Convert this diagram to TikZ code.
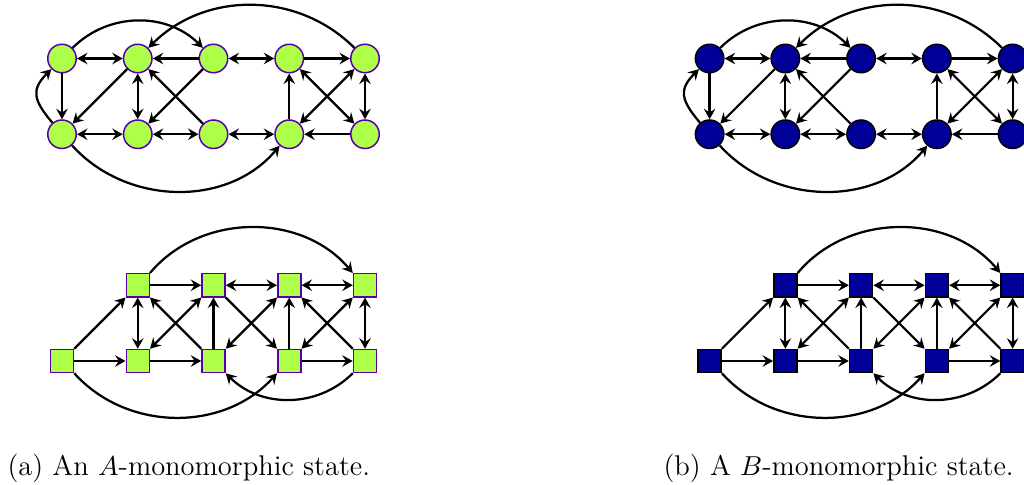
\documentclass[tikz,border=0pt]{standalone}
\usepackage{amsmath}
\usepackage{xcolor}
\usepackage{tikz}
\usetikzlibrary{arrows.meta,positioning}

\definecolor{limefill}{RGB}{173,255,71}
\definecolor{purpline}{RGB}{85,0,170}
\definecolor{navyfill}{RGB}{0,0,153}

\begin{document}
\begin{tikzpicture}[
    x=0.4pt, y=0.4pt,
    node distance=30.3pt, on grid,
    >={Stealth[length=4.2pt, width=4.6pt, inset=1.5pt]},
    circ/.style={circle, inner sep=0pt, minimum size=11.4pt, line width=0.6pt},
    sq/.style={rectangle, inner sep=0pt, minimum size=9.2pt, line width=0.6pt},
    limestate/.style={draw=purpline, fill=limefill},
    navystate/.style={draw=black, fill=navyfill},
    arr/.style={->, line width=0.9pt},
    both/.style={<->, line width=0.9pt},
    caption/.style={anchor=base west, inner sep=0pt, font=\fontsize{11.4}{13}\selectfont}
  ]
    \useasboundingbox (0,0) rectangle (1024,-485);

    \foreach \p/\dx/\col in {a/0/limestate, b/647.6/navystate}{
    \begin{scope}[shift={(\dx,0)}, name prefix=\p-]
    % circle graph
    \node[circ, \col] (t1) at (62,-58.5) {};
    \node[circ, \col, right=of t1] (t2) {};
    \node[circ, \col, right=of t2] (t3) {};
    \node[circ, \col, right=of t3] (t4) {};
    \node[circ, \col, right=of t4] (t5) {};
    \node[circ, \col, below=of t1] (b1) {};
    \node[circ, \col, below=of t2] (b2) {};
    \node[circ, \col, below=of t3] (b3) {};
    \node[circ, \col, below=of t4] (b4) {};
    \node[circ, \col, below=of t5] (b5) {};

    \draw[both] (t1) -- (t2);
    \draw[arr] (t3) -- (t2);
    \draw[both] (t3) -- (t4);
    \draw[arr] (t4) -- (t5);
    \draw[arr] (t1) -- (b1);
    \draw[arr] (t2) -- (b1);
    \draw[both] (t2) -- (b2);
    \draw[arr] (t3) -- (b2);
    \draw[arr] (b3) -- (t2);
    \draw[arr] (b4) -- (t4);
    \draw[both] (t4) -- (b5);
    \draw[both] (b4) -- (t5);
    \draw[both] (t5) -- (b5);
    \draw[both] (b1) -- (b2);
    \draw[both] (b2) -- (b3);
    \draw[both] (b3) -- (b4);
    \draw[arr] (b5) -- (b4);
    \draw[arr] (t1.45) to[out=45, in=135] (t3.135);
    \draw[arr] (t5.135) to[out=135, in=45] (t2.45);
    \draw[arr] (b1.-48) to[out=-48, in=-130] (b4.-130);
    \draw[arr] (b1.130) to[out=130, in=225, looseness=1.4] (t1.225);

    % square graph
    \node[sq, \col] (d1) at (62,-361) {};
    \node[sq, \col, right=of d1] (d2) {};
    \node[sq, \col, right=of d2] (d3) {};
    \node[sq, \col, right=of d3] (d4) {};
    \node[sq, \col, right=of d4] (d5) {};
    \node[sq, \col, above=of d2] (u2) {};
    \node[sq, \col, above=of d3] (u3) {};
    \node[sq, \col, above=of d4] (u4) {};
    \node[sq, \col, above=of d5] (u5) {};

    \draw[arr] (d1) -- (u2);
    \draw[arr] (d1) -- (d2);
    \draw[arr] (u2) -- (u3);
    \draw[both] (u3) -- (u4);
    \draw[both] (u4) -- (u5);
    \draw[both] (u2) -- (d2);
    \draw[arr] (d3) -- (u2);
    \draw[both] (d2) -- (u3);
    \draw[arr] (d2) -- (d3);
    \draw[arr] (d3) -- (u3);
    \draw[arr] (u3) -- (d4);
    \draw[both] (d3) -- (u4);
    \draw[arr] (d4) -- (u4);
    \draw[arr] (d5) -- (u4);
    \draw[both] (d4) -- (u5);
    \draw[both] (u5) -- (d5);
    \draw[arr] (d4) -- (d5);
    \draw[arr] (u2.north east) to[out=50, in=130] (u5.north west);
    \draw[arr] (d1.south east) to[out=-48, in=-132] (d4.south west);
    \draw[arr] (d5.south west) to[out=-135, in=-45] (d3.south east);
    \end{scope}
    }

    \node[caption] (capa) at (7,-475) {(a) An $A$-monomorphic state.};
    \node[caption] (capb) at (663,-475) {(b) A $B$-monomorphic state.};
  \end{tikzpicture}
\end{document}
